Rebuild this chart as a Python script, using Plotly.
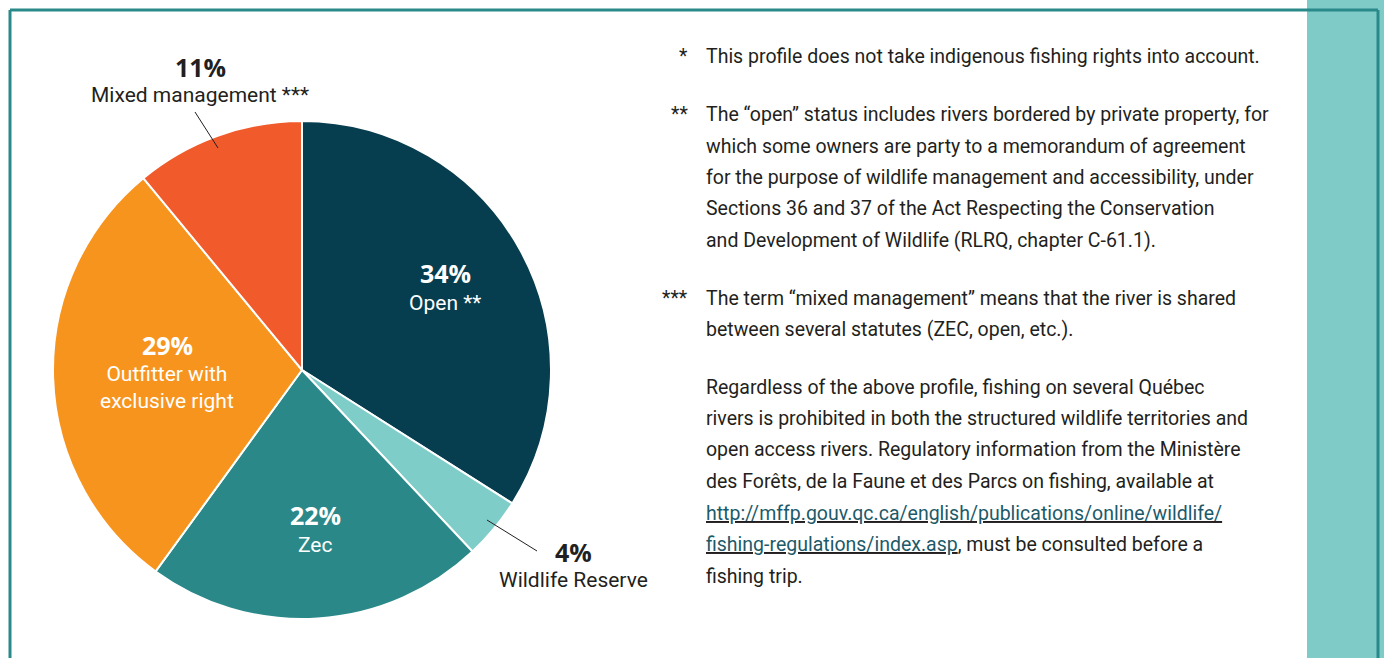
import plotly.graph_objects as go

# ---- data ----
categories = ["Open **", "Wildlife Reserve", "Zec", "Outfitter with<br>exclusive right", "Mixed management ***"]
values = [34, 4, 22, 29, 11]
colors = ["#063d4f", "#7ecdc8", "#2a8888", "#f7941e", "#f15a2b"]

note_marks = ["*", "**", "***", ""]
note_lines = [
    ["This profile does not take indigenous fishing rights into account."],
    ["The \u201copen\u201d status includes rivers bordered by private property, for",
     "which some owners are party to a memorandum of agreement",
     "for the purpose of wildlife management and accessibility, under",
     "Sections 36 and 37 of the Act Respecting the Conservation",
     "and Development of Wildlife (RLRQ, chapter C-61.1)."],
    ["The term \u201cmixed management\u201d means that the river is shared",
     "between several statutes (ZEC, open, etc.)."],
    ["Regardless of the above profile, fishing on several Qu\u00e9bec",
     "rivers is prohibited in both the structured wildlife territories and",
     "open access rivers. Regulatory information from the Minist\u00e8re",
     "des For\u00eats, de la Faune et des Parcs on fishing, available at",
     "<u>http://mffp.gouv.qc.ca/english/publications/online/wildlife/</u>",
     "<u>fishing-regulations/index.asp</u>, must be consulted before a",
     "fishing trip."],
]

W, H = 1384, 658
def px(x): return x / W
def py(y): return 1 - y / H

# pie geometry (pixels)
cx, cy, r = 302, 370, 249

fig = go.Figure()
fig.add_trace(go.Pie(
    values=values, labels=categories, sort=False, direction="clockwise", rotation=0,
    marker=dict(colors=colors, line=dict(color="white", width=2)),
    textinfo="none", hoverinfo="label+percent", showlegend=False,
    domain=dict(x=[px(cx - r), px(cx + r)], y=[py(cy + r), py(cy - r)]),
))

label_font = "Roboto, sans-serif"
# label positions (pixel centers) for percentage and name
label_pos = [(445, 273, 303, "white"), (573, 552, 580, "#231f20"), (315, 515, 545, "white"),
             (167, 345, 387, "white"), (200, 67, 95, "#231f20")]
annotations = []
for cat, v, (lx, ly1, ly2, col) in zip(categories, values, label_pos):
    annotations.append(dict(x=px(lx), y=py(ly1), xref="paper", yref="paper", text=f"<b>{v}%</b>",
                            showarrow=False, xanchor="center", yanchor="middle",
                            font=dict(family="Open Sans, sans-serif", size=25, color=col)))
    annotations.append(dict(x=px(lx), y=py(ly2), xref="paper", yref="paper", text=cat,
                            showarrow=False, xanchor="center", yanchor="middle",
                            font=dict(family=label_font, size=21, color=col)))

# notes
y = 57
pitch = 31.5
para_gap = 26
note_font = dict(family=label_font, size=19.5, color="#231f20")
for mark, lines in zip(note_marks, note_lines):
    if mark:
        annotations.append(dict(x=px(690), y=py(y), xref="paper", yref="paper", text=mark,
                                showarrow=False, xanchor="right", yanchor="middle", font=note_font))
    for i, ln in enumerate(lines):
        txt = ln.replace("<u>", "<u><span style='color:#1d5a69'>").replace("</u>", "</span></u>")
        annotations.append(dict(x=px(704), y=py(y + i * pitch), xref="paper", yref="paper", text=txt,
                                showarrow=False, xanchor="left", yanchor="middle", align="left",
                                font=note_font))
    y += len(lines) * pitch + para_gap

shapes = [
    # teal side block
    dict(type="rect", xref="paper", yref="paper", x0=px(1307), x1=1, y0=0, y1=1,
         fillcolor="#7ecbc7", line=dict(width=0), layer="below"),
    # frame
    dict(type="line", xref="paper", yref="paper", x0=px(10), x1=px(1378), y0=py(10), y1=py(10),
         line=dict(color="#2a8a8a", width=3)),
    dict(type="line", xref="paper", yref="paper", x0=px(10), x1=px(10), y0=py(10), y1=0,
         line=dict(color="#2a8a8a", width=3)),
    dict(type="line", xref="paper", yref="paper", x0=px(1378), x1=px(1378), y0=py(10), y1=0,
         line=dict(color="#2a8a8a", width=3)),
    # leader lines
    dict(type="line", xref="paper", yref="paper", x0=px(195), x1=px(218), y0=py(112), y1=py(148),
         line=dict(color="#231f20", width=1)),
    dict(type="line", xref="paper", yref="paper", x0=px(487), x1=px(537), y0=py(520), y1=py(551),
         line=dict(color="#231f20", width=1)),
]

fig.update_layout(
    width=W, height=H, margin=dict(l=0, r=0, t=0, b=0),
    paper_bgcolor="white", plot_bgcolor="white",
    annotations=annotations, shapes=shapes,
)
fig.write_html("out.html")
